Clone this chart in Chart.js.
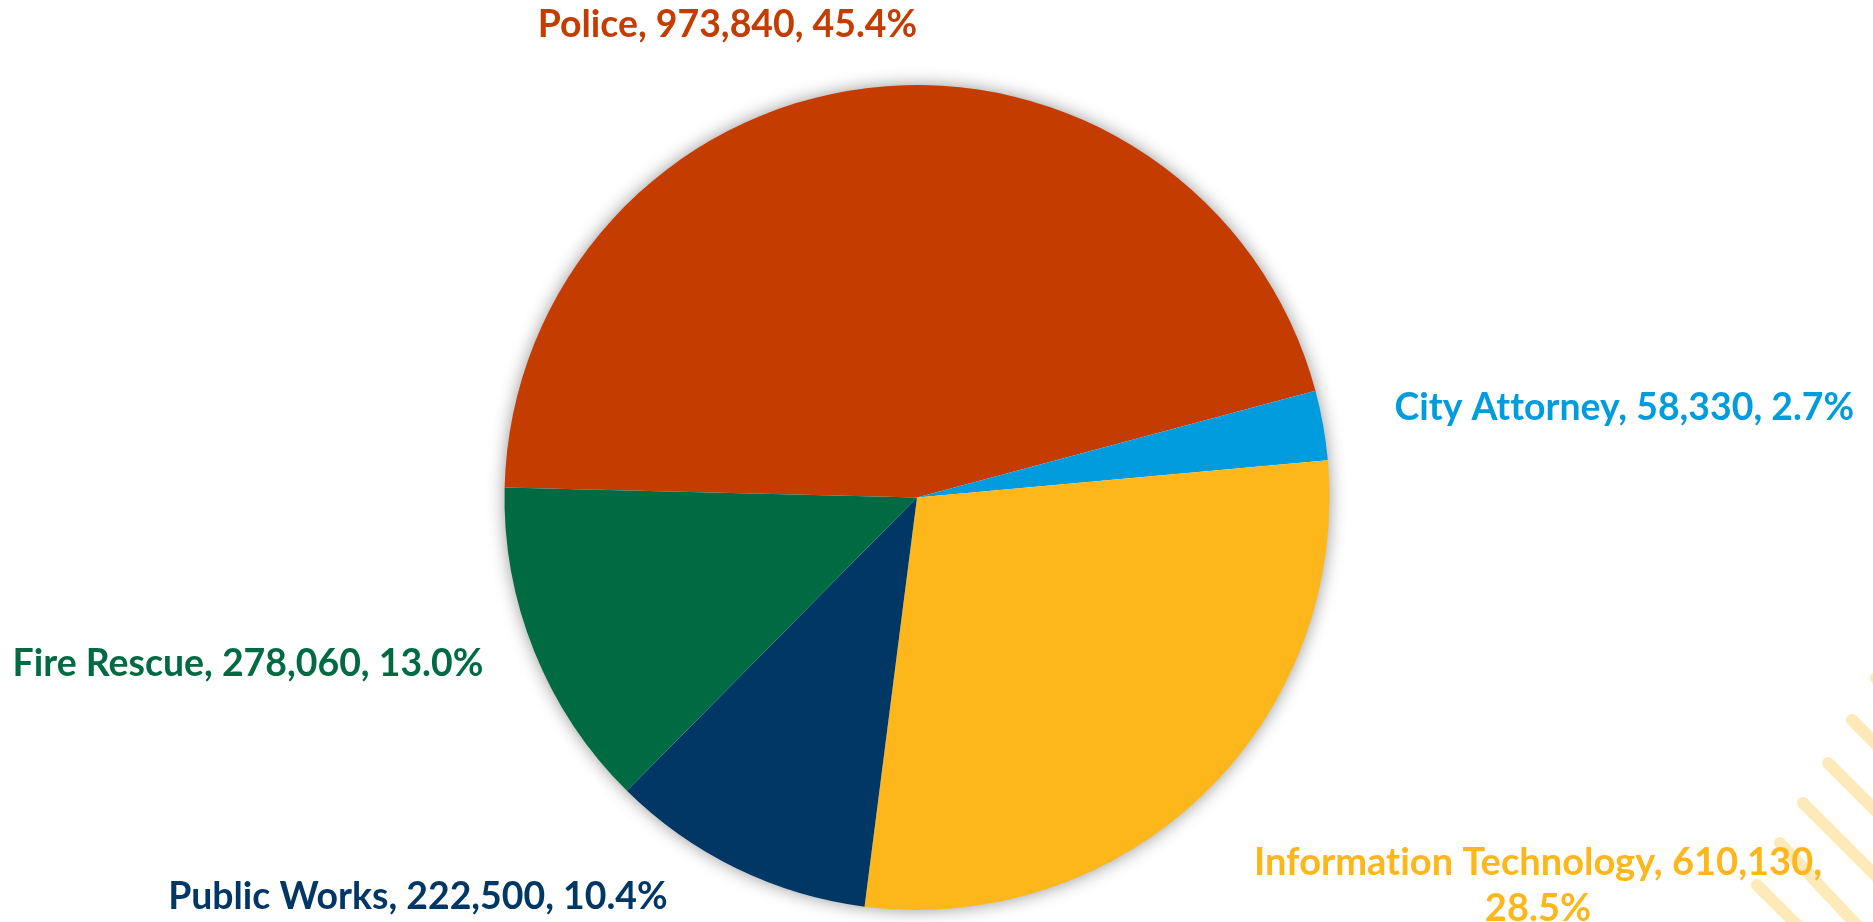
<!DOCTYPE html>
<html>
<head>
<meta charset="utf-8">
<title>Department Budget Share</title>
<script src="https://cdn.jsdelivr.net/npm/chart.js@4.4.1/dist/chart.umd.min.js"></script>
<style>
  html, body { margin: 0; padding: 0; background: #ffffff; }
  #wrap { width: 1873px; height: 922px; position: relative; }
</style>
</head>
<body>
<div id="wrap"><canvas id="budgetPie"></canvas></div>
<script>
// Department allocations
const categories = ['Police', 'City Attorney', 'Information Technology', 'Public Works', 'Fire Rescue'];
const amounts = [973840, 58330, 610130, 222500, 278060];
const sliceColors = ['#C53C00', '#009CDE', '#FDB71B', '#003764', '#006A43'];

function formatAmount(v) {
  return String(v).replace(/\B(?=(\d{3})+(?!\d))/g, ',');
}

// White page with the light diagonal stripes in the lower-right corner
const backdrop = {
  id: 'backdrop',
  beforeDraw(chart, args, opts) {
    const ctx = chart.ctx;
    ctx.save();
    ctx.fillStyle = '#ffffff';
    ctx.fillRect(0, 0, chart.width, chart.height);
    ctx.strokeStyle = opts.stripeColor;
    ctx.lineWidth = opts.stripeWidth;
    ctx.lineCap = 'round';
    opts.stripes.forEach(s => {
      ctx.beginPath();
      ctx.moveTo(s[0], s[1]);
      ctx.lineTo(s[0] + opts.stripeLength * Math.cos(s[2] * Math.PI / 180),
                 s[1] + opts.stripeLength * Math.sin(s[2] * Math.PI / 180));
      ctx.stroke();
    });
    ctx.restore();
  }
};

// Soft drop shadow under the whole pie
const pieShadow = {
  id: 'pieShadow',
  beforeDatasetsDraw(chart, args, opts) {
    const arc = chart.getDatasetMeta(0).data[0];
    if (!arc) return;
    const { x, y, outerRadius } = arc.getProps(['x', 'y', 'outerRadius'], true);
    const ctx = chart.ctx;
    ctx.save();
    ctx.shadowColor = opts.color;
    ctx.shadowBlur = opts.blur;
    ctx.shadowOffsetX = 0;
    ctx.shadowOffsetY = 0;
    ctx.fillStyle = '#ffffff';
    ctx.beginPath();
    ctx.arc(x, y, outerRadius - 1, 0, Math.PI * 2);
    ctx.fill();
    ctx.restore();
  }
};

// "Name, value, percent" labels placed outside each slice
const sliceLabels = {
  id: 'sliceLabels',
  afterDatasetsDraw(chart, args, opts) {
    const ctx = chart.ctx;
    const meta = chart.getDatasetMeta(0);
    const total = amounts.reduce((a, b) => a + b, 0);
    meta.data.forEach((arc, i) => {
      const { x, y, startAngle, endAngle, outerRadius } =
        arc.getProps(['x', 'y', 'startAngle', 'endAngle', 'outerRadius'], true);
      const mid = (startAngle + endAngle) / 2;
      const px = x + Math.cos(mid) * (outerRadius + opts.gap);
      const py = y + Math.sin(mid) * (outerRadius + opts.gap);
      const place = opts.placement[i];
      const pct = (amounts[i] / total * 100).toFixed(1) + '%';
      const head = categories[i] + ', ' + formatAmount(amounts[i]) + ',';
      const lines = place.wrap ? [head, pct] : [head + ' ' + pct];
      ctx.save();
      ctx.font = 'bold ' + (place.size || opts.size) + 'px Lato, "Open Sans", sans-serif';
      ctx.letterSpacing = '0.01px';
      ctx.fillStyle = sliceColors[i];
      ctx.textAlign = place.align;
      ctx.textBaseline = 'alphabetic';
      lines.forEach((t, k) => {
        ctx.fillText(t, px + place.dx, py + place.dy + k * opts.lineHeight);
      });
      ctx.restore();
    });
  }
};

new Chart(document.getElementById('budgetPie'), {
  type: 'pie',
  data: {
    labels: categories,
    datasets: [{
      data: amounts,
      backgroundColor: sliceColors,
      borderWidth: 0,
      hoverOffset: 0,
      offset: 0
    }]
  },
  options: {
    responsive: true,
    maintainAspectRatio: false,
    animation: false,
    rotation: -88.6,
    layout: { padding: { top: 85, bottom: 12, left: 504, right: 543 } },
    events: [],
    plugins: {
      legend: { display: false },
      tooltip: { enabled: false },
      backdrop: {
        stripeColor: '#FEE9B8',
        stripeWidth: 12,
        stripeLength: 320,
        stripes: [[1876, 678, 45], [1852, 720, 45], [1828, 763, 45], [1803, 803, 45], [1780, 843, 47], [1757, 885, 45]]
      },
      pieShadow: { color: 'rgba(0,0,0,0.45)', blur: 18 },
      sliceLabels: {
        gap: 40,
        size: 37.4,
        lineHeight: 46,
        placement: [
          { align: 'center', dx: -136, dy: -11 },
          { align: 'left', dx: 32, dy: 2 },
          { align: 'center', dx: 307, dy: 52, wrap: true, size: 38 },
          { align: 'right', dx: -51, dy: 5 },
          { align: 'right', dx: -14, dy: 9 }
        ]
      }
    }
  },
  plugins: [backdrop, pieShadow, sliceLabels]
});
</script>
</body>
</html>
